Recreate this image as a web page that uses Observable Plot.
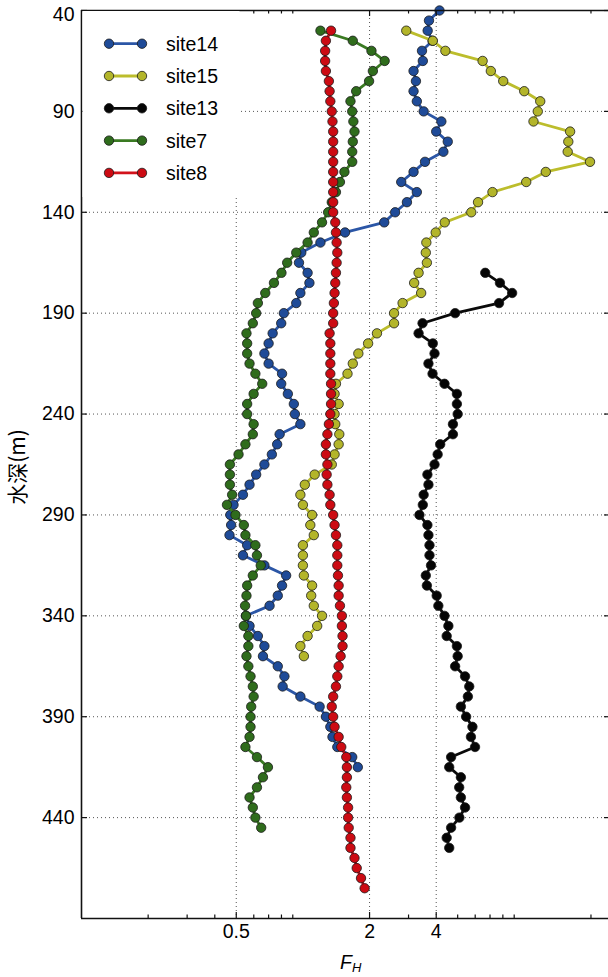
<!DOCTYPE html>
<html><head><meta charset="utf-8">
<script src="https://cdn.jsdelivr.net/npm/d3@7"></script>
<script src="https://cdn.jsdelivr.net/npm/@observablehq/plot@0.6"></script>
<style>
body{margin:0;background:#fff;}
#chart{position:relative;width:608px;height:977px;}
</style></head><body><div id="chart"></div>
<script>
// ---- data (depth in m, F_H value) ----
const site14Depth = [40,45,50,55,60,65,70,75,80,85,
  90,95,100,105,110,115,120,125,130,135,
  140,145,150,155,160,165,170,175,180,185,
  190,195,200,205,210,215,220,225,230,235,
  240,245,250,255,260,265,270,275,280,285,
  290,295,300,305,310,315,320,325,330,335,
  340,345,350,355,360,365,370,375,380,385,
  390,395,400,405,410,415];
const site14Value = [4.14,3.71,3.66,3.85,3.45,3.48,3.16,3.24,3.16,3.27,
  3.51,4.22,4.0,4.51,4.31,3.56,3.16,2.78,3.27,2.95,
  2.61,2.33,1.55,1.20,0.983,0.96,1.05,1.07,0.974,0.933,
  0.82,0.798,0.73,0.70,0.67,0.70,0.805,0.798,0.855,0.91,
  0.92,0.974,0.785,0.765,0.724,0.67,0.615,0.574,0.536,0.486,
  0.47,0.474,0.466,0.56,0.536,0.67,0.84,0.805,0.77,0.707,
  0.553,0.574,0.626,0.67,0.66,0.77,0.825,0.81,0.974,1.19,
  1.27,1.33,1.36,1.43,1.67,1.77];

const site15Depth = [50,55,60,65,70,75,80,85,90,95,
  100,105,110,115,120,125,130,135,140,145,
  150,155,160,165,170,175,180,185,190,195,
  200,205,210,215,220,225,230,235,240,245,
  250,255,260,265,270,275,280,285,290,295,
  300,305,310,315,320,325,330,335,340,345,
  350,355,360];
const site15Value = [2.93,3.86,4.40,6.48,7.06,8.03,9.99,11.8,11.5,11.0,
  16.1,15.8,15.7,19.8,12.5,10.2,7.18,6.18,5.76,4.37,
  3.98,3.61,3.59,3.63,3.33,3.18,3.42,2.82,2.58,2.58,
  2.16,1.97,1.78,1.68,1.59,1.41,1.39,1.45,1.39,1.40,
  1.46,1.45,1.39,1.35,1.13,1.02,0.974,1.0,1.10,1.08,
  1.12,1.0,1.0,1.0,1.01,1.10,1.09,1.12,1.22,1.16,
  1.05,0.974,1.01];

const site13Depth = [170,175,180,185,190,195,200,205,210,215,
  220,225,230,235,240,245,250,255,260,265,
  270,275,280,285,290,295,300,305,310,315,
  320,325,330,335,340,345,350,355,360,365,
  370,375,380,385,390,395,400,405,410,415,
  420,425,430,435,440,445,450,455];
const site13Value = [6.66,7.76,8.81,7.69,4.87,3.47,3.33,3.86,3.93,3.69,
  3.85,4.36,4.96,4.96,5.0,4.76,4.76,4.17,4.06,3.93,
  3.65,3.69,3.51,3.48,3.36,3.65,3.69,3.73,3.73,3.79,
  3.59,3.63,4.02,4.09,4.36,4.54,4.46,4.96,5.0,4.87,
  5.4,5.64,5.56,5.17,5.46,5.83,5.74,5.99,4.67,4.58,
  5.17,5.08,5.17,5.4,5.09,4.67,4.46,4.58];

const site7Depth = [50,55,60,65,70,75,80,85,90,95,
  100,105,110,115,120,125,130,135,140,145,
  150,155,160,165,170,175,180,185,190,195,
  200,205,210,215,220,225,230,235,240,245,
  250,255,260,265,270,275,280,285,290,295,
  300,305,310,315,320,325,330,335,340,345,
  350,355,360,365,370,375,380,385,390,395,
  400,405,410,415,420,425,430,435,440,445];
const site7Value = [1.20,1.68,2.04,2.34,2.07,1.99,1.74,1.64,1.67,1.69,
  1.71,1.68,1.67,1.67,1.54,1.47,1.41,1.35,1.30,1.22,
  1.12,1.05,0.933,0.849,0.80,0.74,0.676,0.626,0.615,0.594,
  0.556,0.56,0.56,0.574,0.61,0.655,0.599,0.56,0.56,0.599,
  0.594,0.55,0.512,0.468,0.468,0.468,0.479,0.454,0.496,0.541,
  0.55,0.61,0.62,0.645,0.594,0.56,0.556,0.548,0.553,0.541,
  0.567,0.567,0.556,0.567,0.58,0.594,0.599,0.584,0.58,0.58,
  0.574,0.55,0.62,0.695,0.66,0.62,0.574,0.594,0.61,0.648];

const site8Depth = [50,55,60,65,70,75,80,85,90,95,
  100,105,110,115,120,125,130,135,140,145,
  150,155,160,165,170,175,180,185,190,195,
  200,205,210,215,220,225,230,235,240,245,
  250,255,260,265,270,275,280,285,290,295,
  300,305,310,315,320,325,330,335,340,345,
  350,355,360,365,370,375,380,385,390,395,
  400,405,410,415,420,425,430,435,440,445,
  450,455,460,465,470,475];
const site8Value = [1.34,1.27,1.26,1.26,1.27,1.31,1.32,1.33,1.35,1.36,
  1.37,1.37,1.37,1.37,1.37,1.37,1.37,1.37,1.37,1.40,
  1.41,1.42,1.43,1.42,1.41,1.40,1.39,1.38,1.37,1.37,
  1.32,1.33,1.33,1.33,1.33,1.34,1.34,1.34,1.33,1.31,
  1.29,1.27,1.27,1.29,1.28,1.29,1.32,1.33,1.37,1.39,
  1.41,1.43,1.43,1.43,1.44,1.45,1.45,1.47,1.50,1.50,
  1.51,1.51,1.48,1.45,1.43,1.41,1.37,1.35,1.37,1.39,
  1.45,1.49,1.57,1.58,1.58,1.57,1.58,1.60,1.60,1.61,
  1.64,1.64,1.71,1.75,1.83,1.90];

const seriesNames = ["site14","site15","site13","site7","site8"];
const xTickValues = [0.5, 2, 4];
const xMinorTicks = [0.2,0.3,0.4,0.6,0.7,0.8,0.9,3,5,6,7,8,9,20];
const yTickValues = [40,90,140,190,240,290,340,390,440];
const xDomain = [0.1, 24];
const yDomain = [40, 490];
const xLabelMain = "F", xLabelSub = "H";
const yLabel = "水深(m)";

// ---- styling ----
const lineColors = {site14:"#2b56a6", site15:"#bcbd2c", site13:"#0a0a0a", site7:"#3a7a22", site8:"#d2121b"};
const fillColors = {site14:"#1f4b98", site15:"#b3b52a", site13:"#050505", site7:"#2f6c1c", site8:"#cc0b13"};
const seriesData = {
  site14: site14Depth.map((d,i)=>({depth:d, value:site14Value[i]})),
  site15: site15Depth.map((d,i)=>({depth:d, value:site15Value[i]})),
  site13: site13Depth.map((d,i)=>({depth:d, value:site13Value[i]})),
  site7:  site7Depth.map((d,i)=>({depth:d, value:site7Value[i]})),
  site8:  site8Depth.map((d,i)=>({depth:d, value:site8Value[i]}))
};

const W = 608, H = 977, mT = 10, mB = 59, mL = 81, mR = 0;
const frameW = W - mL - mR, frameH = H - mT - mB;
const FONT = "'Liberation Sans', Arial, Helvetica, sans-serif";
const FS = 19.5;
const axisColor = "#111";

const marks = [
  Plot.ruleX(xTickValues, {stroke:"#555", strokeDasharray:"1,3", strokeWidth:1}),
  Plot.ruleY(yTickValues, {stroke:"#555", strokeDasharray:"1,3", strokeWidth:1}),
  ...seriesNames.flatMap(name => [
    Plot.line(seriesData[name], {x:"value", y:"depth", stroke:lineColors[name], strokeWidth:2.8}),
    Plot.dot(seriesData[name], {x:"value", y:"depth", r:4.7, fill:fillColors[name], stroke:"#1a1a1a", strokeWidth:0.8})
  ]),
  // axis lines
  Plot.ruleX([xDomain[0]], {stroke:axisColor, strokeWidth:1.6}),
  Plot.ruleY([yDomain[0]], {stroke:axisColor, strokeWidth:1.6}),
  Plot.ruleY([yDomain[1]], {stroke:axisColor, strokeWidth:1.6}),
  // ticks (inward)
  Plot.tickX(xTickValues, {x:d=>d, insetTop: frameH-6, stroke:axisColor, strokeWidth:1.2}),
  Plot.tickX(xTickValues, {x:d=>d, insetBottom: frameH-6, stroke:axisColor, strokeWidth:1.2}),
  Plot.tickX(xMinorTicks, {x:d=>d, insetTop: frameH-3.5, stroke:axisColor, strokeWidth:1.2}),
  Plot.tickX(xMinorTicks, {x:d=>d, insetBottom: frameH-3.5, stroke:axisColor, strokeWidth:1.2}),
  Plot.tickY(yTickValues, {y:d=>d, insetRight: frameW-6, stroke:axisColor, strokeWidth:1.2}),
  Plot.tickY(yTickValues, {y:d=>d, insetLeft: frameW-4, stroke:axisColor, strokeWidth:1.2}),
  // tick labels
  Plot.text(xTickValues, {x:d=>d, text:d=>String(d), frameAnchor:"bottom", dy:19, fontSize:FS, fill:"#000"}),
  Plot.text(yTickValues.slice(1), {y:d=>d, text:d=>String(d), frameAnchor:"left", textAnchor:"end", dx:-7, fontSize:FS, fill:"#000"}),
  Plot.text(yTickValues.slice(0,1), {y:d=>d, text:d=>String(d), frameAnchor:"left", textAnchor:"end", dx:-7, dy:4, fontSize:FS, fill:"#000"})
];

const chart = Plot.plot({
  width: W, height: H,
  marginTop: mT, marginBottom: mB, marginLeft: mL, marginRight: mR,
  x: {type:"log", domain:xDomain, axis:null},
  y: {domain:yDomain, reverse:true, axis:null},
  style: {fontFamily: FONT, fontSize: FS + "px", background:"#fff", color:"#000", overflow:"visible"},
  marks
});
document.getElementById("chart").appendChild(chart);

// ---- legend, axis titles (drawn into the same SVG) ----
const svg = d3.select(chart);
const lg = svg.append("g").attr("class","legend");
lg.append("rect").attr("x",82.5).attr("y",11).attr("width",157).attr("height",186).attr("fill","#fff");
seriesNames.forEach((name, i) => {
  const cy = 43.7 + i*32.3;
  const g = lg.append("g");
  g.append("line").attr("x1",109).attr("x2",142).attr("y1",cy).attr("y2",cy)
    .attr("stroke",lineColors[name]).attr("stroke-width",2.8);
  [109,142].forEach(cx => g.append("circle").attr("cx",cx).attr("cy",cy).attr("r",4.7)
    .attr("fill",fillColors[name]).attr("stroke","#1a1a1a").attr("stroke-width",0.8));
  g.append("text").attr("x",166).attr("y",cy).attr("dy","0.36em").attr("text-anchor","start")
    .attr("font-family",FONT).attr("font-size",FS).attr("fill","#000").text(name);
});

const xl = svg.append("text").attr("x",340).attr("y",969).attr("text-anchor","start")
  .attr("font-family",FONT).attr("font-size",FS).attr("fill","#000");
xl.append("tspan").attr("font-style","italic").text(xLabelMain);
xl.append("tspan").attr("font-style","italic").attr("font-size",13).attr("dy",3).text(xLabelSub);

svg.append("text").attr("transform","translate(18,467) rotate(-90)")
  .attr("text-anchor","middle").attr("dy","0.35em")
  .attr("font-family","'Noto Sans CJK SC', sans-serif").attr("font-size",21).attr("fill","#000")
  .text(yLabel);
</script>
</body></html>
